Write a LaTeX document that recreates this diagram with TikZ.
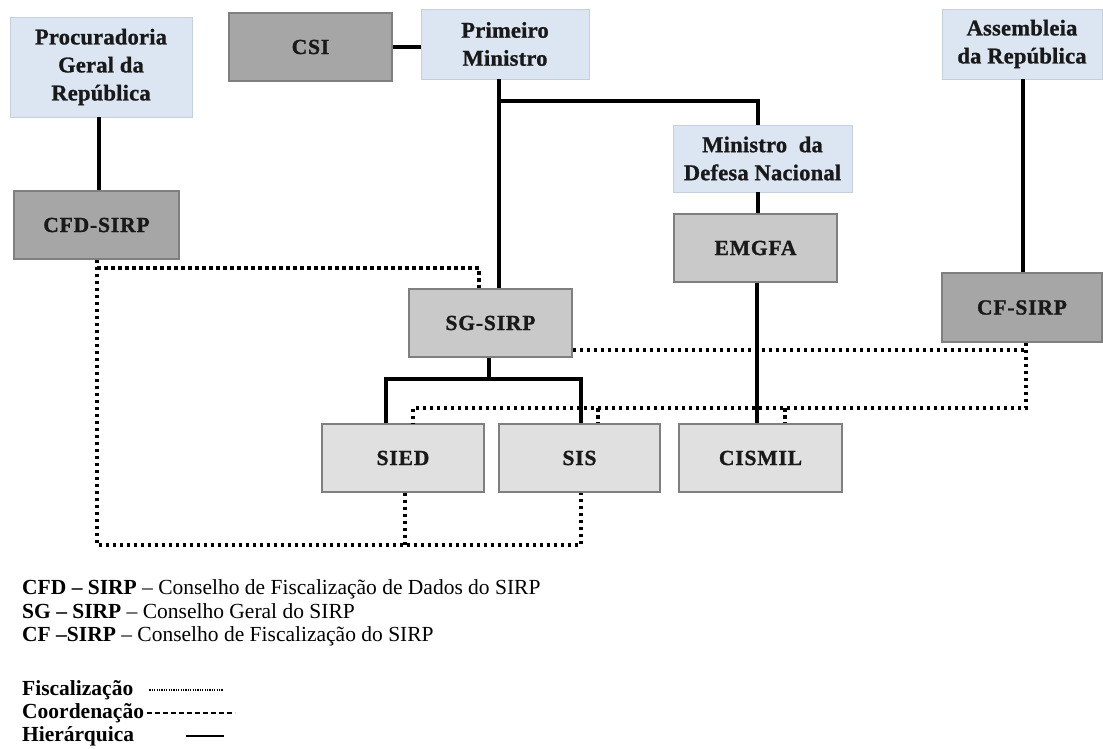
\documentclass[tikz,border=0pt]{standalone}
\usepackage{fontspec}
\setmainfont{Liberation Serif}
\newfontfamily\boxfont{Liberation Serif}[LetterSpace=4, BoldFeatures={FakeBold=1.2}]
\newfontfamily\bluefont{Liberation Serif}[LetterSpace=1, BoldFeatures={FakeBold=1.0}]
\usetikzlibrary{calc}
\definecolor{blueBox}{HTML}{DCE6F2}
\definecolor{blueEdge}{HTML}{C6D0DC}
\definecolor{darkGray}{HTML}{A6A6A6}
\definecolor{midGray}{HTML}{C9C9C9}
\definecolor{lightGray}{HTML}{E0E0E0}
\definecolor{edgeGray}{HTML}{7F7F7F}
\tikzset{
  base/.style={rectangle, inner sep=0pt, align=center, text=black!90},
  bluebox/.style={base, fill=blueBox, draw=blueEdge, line width=0.6pt,
    font=\bluefont\bfseries\fontsize{22.5}{28}\selectfont},
  darkbox/.style={base, fill=darkGray, draw=edgeGray, line width=1.2pt,
    font=\boxfont\bfseries\fontsize{21.5}{24}\selectfont},
  midbox/.style={darkbox, fill=midGray},
  lightbox/.style={darkbox, fill=lightGray},
  hier/.style={line width=4pt, black},
  fisc/.style={line width=3.5pt, black, dash pattern=on 3.5pt off 3.5pt},
  legend/.style={anchor=base west, inner sep=0pt, font=\fontsize{21.5}{25}\selectfont},
  legdot/.style={line width=1.1pt, black, dash pattern=on 1.1pt off 1.3pt},
  legdash/.style={line width=1.1pt, black, dash pattern=on 5pt off 3pt},
  legsolid/.style={line width=1.6pt, black},
}
\begin{document}
\begin{tikzpicture}[x=1pt,y=-1pt]
\fill[white] (0,0) rectangle (1103,749);
\useasboundingbox (0,0) rectangle (1103,749);

% boxes
\node[bluebox, minimum width=182pt, minimum height=100pt] (proc) at (101,67) {Procuradoria\\Geral da\\República};
\node[darkbox, minimum width=163pt, minimum height=68pt] (csi) at (310.5,47) {CSI};
\node[bluebox, minimum width=168pt, minimum height=70pt] (pm) at (505,44) {Primeiro\\Ministro};
\node[bluebox, minimum width=160pt, minimum height=70pt] (assem) at (1022,44) {Assembleia\\da República};
\node[bluebox, minimum width=179pt, minimum height=67pt] (mdn) at (762.5,158.5) {Ministro\ \ da\\Defesa Nacional};
\node[darkbox, minimum width=165pt, minimum height=68pt] (cfd) at (96.5,225) {CFD-SIRP};
\node[midbox, minimum width=163pt, minimum height=68pt] (emgfa) at (755.5,248) {EMGFA};
\node[darkbox, minimum width=160pt, minimum height=69pt] (cf) at (1022,307.5) {CF-SIRP};
\node[midbox, minimum width=163pt, minimum height=68pt] (sg) at (490.5,323) {SG-SIRP};
\node[lightbox, minimum width=162pt, minimum height=68pt] (sied) at (403,458) {SIED};
\node[lightbox, minimum width=161pt, minimum height=68pt] (sis) at (579.5,458) {SIS};
\node[lightbox, minimum width=163pt, minimum height=68pt] (cismil) at (760.5,458) {CISMIL};

% coordinates for connector routes
\coordinate (pmx) at (499,0);
\coordinate (b1) at (499,101);
\coordinate (mdnx) at (758,0);
\coordinate (emx) at (757,0);
\coordinate (procx) at (99,0);
\coordinate (assx) at (1023,0);
\coordinate (sgb) at (489,379);
\coordinate (siedx) at (386,0);
\coordinate (sisx) at (581,0);

% hierarchical (solid) connectors
\draw[hier] (csi.east) -- (csi.east -| pm.west);
\draw[hier] (pm.south -| pmx) -- (sg.north -| pmx);
\draw[hier] (b1) -| (mdn.north -| mdnx);
\draw[hier] (mdn.south -| mdnx) -- (emgfa.north -| mdnx);
\draw[hier] (emgfa.south -| emx) -- (cismil.north -| emx);
\draw[hier] (proc.south -| procx) -- (cfd.north -| procx);
\draw[hier] (assem.south -| assx) -- (cf.north -| assx);
\draw[hier] (sg.south -| sgb) -- (sgb);
\draw[hier] (sied.north -| siedx) |- (sgb) -| (sis.north -| sisx);

% fiscalization (dotted) connectors
\coordinate (d1) at (97,545);
\coordinate (d2) at (581,545);
\coordinate (d3) at (405,545);
\coordinate (d4) at (97,268);
\coordinate (d5) at (479,268);
\coordinate (d6) at (1026,350);
\coordinate (d7) at (1026,408);
\coordinate (d8) at (413,408);
\coordinate (d9) at (598,408);
\coordinate (d10) at (785,408);

\draw[fisc] (cfd.south -| d1) -- (d1) -- (d2) -- (sis.south -| d2);
\draw[fisc] (sied.south -| d3) -- (d3);
\draw[fisc] (d4) -- (d5) -- (sg.north -| d5);
\draw[fisc] (sg.east |- d6) -- (d6);
\draw[fisc] (cf.south -| d6) -- (d7) -- (d8) -- (sied.north -| d8);
\draw[fisc] (d9) -- (sis.north -| d9);
\draw[fisc] (d10) -- (cismil.north -| d10);

% legend
\node[legend] (l1) at (22,594) {\textbf{CFD – SIRP} – Conselho de Fiscalização de Dados do SIRP};
\node[legend] (l2) at (22,618) {\textbf{SG – SIRP} – Conselho Geral do SIRP};
\node[legend] (l3) at (22,641) {\textbf{CF –SIRP} – Conselho de Fiscalização do SIRP};
\node[legend] (k1) at (22,695) {\textbf{Fiscalização}};
\node[legend] (k2) at (22,718) {\textbf{Coordenação}};
\node[legend] (k3) at (22,741) {\textbf{Hierárquica}};
\draw[legdot] ($(k1.base east)+(16,-5)$) -- ++(74,0);
\draw[legdash] ($(k2.base east)+(3,-5)$) -- ++(88,0);
\draw[legsolid] ($(k3.base east)+(52,-5)$) -- ++(38,0);
\end{tikzpicture}
\end{document}
